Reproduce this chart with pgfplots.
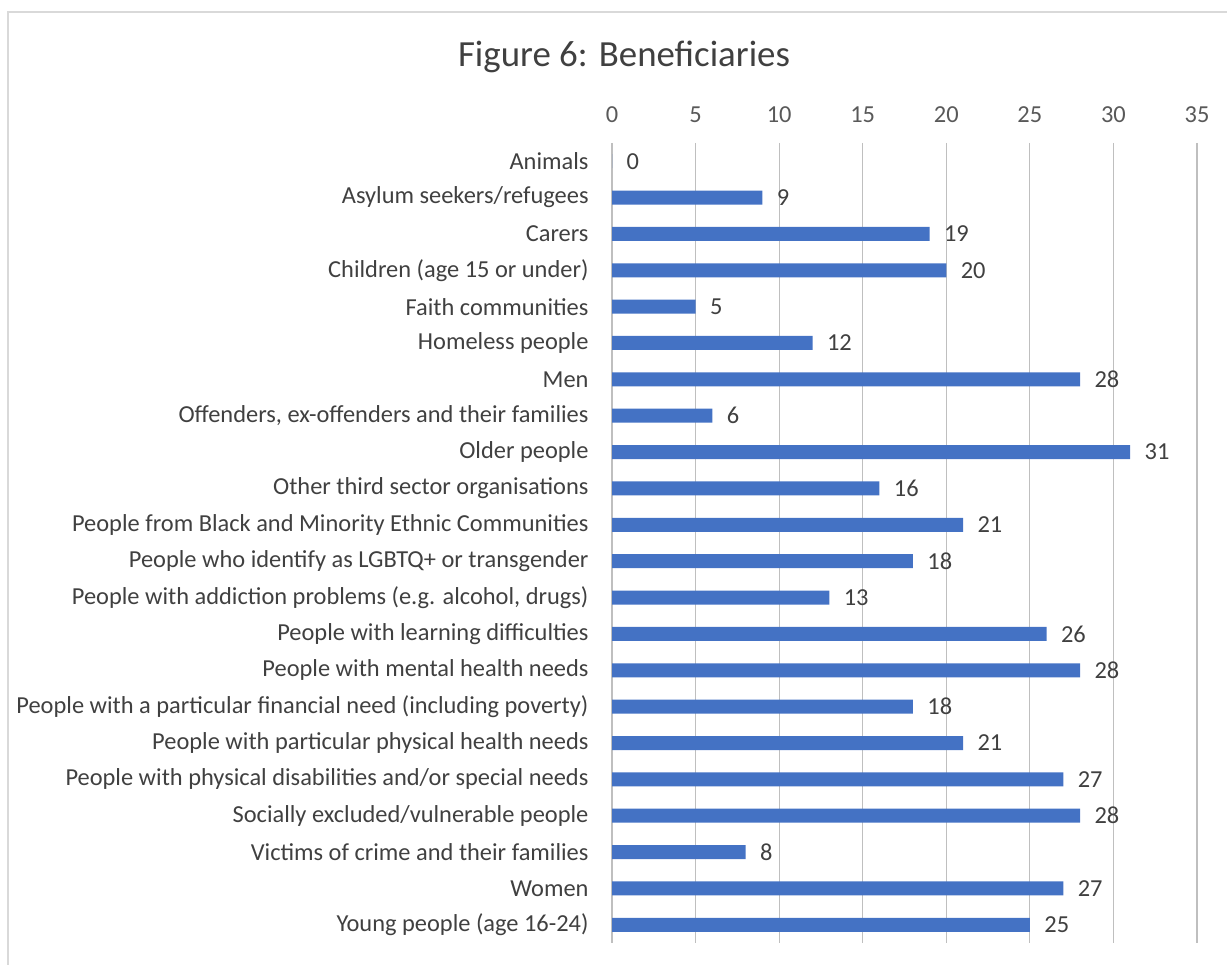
\documentclass[border=0pt]{standalone}
\usepackage{pgfplots}
\pgfplotsset{compat=1.18}
\usepackage{fontspec}
\setmainfont{Carlito}
\definecolor{barblue}{HTML}{4472C4}
\definecolor{txt}{HTML}{404040}
\definecolor{tick}{HTML}{595959}
\definecolor{grid}{HTML}{D9D9D9}
\begin{document}
\begin{tikzpicture}[x=1bp,y=1bp]
\useasboundingbox (0,0) rectangle (1227,965);
\draw[grid, line width=1.2bp] (8,-5) -- (8,953) -- (1232,953);
\node[font=\fontsize{37}{42}\selectfont, text=txt] at (624,908) {Figure 6: Beneficiaries};
\begin{axis}[
  at={(612bp,22bp)}, anchor=south west,
  scale only axis, width=585bp, height=800bp,
  xmin=0, xmax=35, ymin=-0.5, ymax=21.5,
  y dir=reverse,
  xbar, bar width=14bp,
  axis line style={draw=none},
  major tick length=0pt,
  xtick={0,5,...,35},
  xticklabel pos=upper,
  xmajorgrids=true, ymajorgrids=false, grid style={grid, line width=1.2bp},
  ytick={0,...,21},
  yticklabels={{Animals},{Asylum seekers/refugees},{Carers},{Children (age 15 or under)},{Faith communities},{Homeless people},{Men},{Offenders, ex-offenders and their families},{Older people},{Other third sector organisations},{People from Black and Minority Ethnic Communities},{People who identify as LGBTQ+ or transgender},{People with addiction problems (e.g. alcohol, drugs)},{People with learning difficulties},{People with mental health needs},{People with a particular financial need (including poverty)},{People with particular physical health needs},{People with physical disabilities and/or special needs},{Socially excluded/vulnerable people},{Victims of crime and their families},{Women},{Young people (age 16-24)}},
  ticklabel style={font=\fontsize{24.5}{28}\selectfont, text=tick},
  /pgf/number format/assume math mode=true,
  yticklabel style={xshift=-20bp, text=txt},
  xticklabel style={yshift=17bp},
  nodes near coords,
  nodes near coords style={anchor=west, xshift=11bp, font=\fontsize{24.5}{28}\selectfont, text=txt},
  clip=false,
]
\addplot[fill=barblue, draw=none] coordinates {
(0,0) (9,1) (19,2) (20,3) (5,4) (12,5) (28,6) (6,7) (31,8) (16,9) (21,10)
(18,11) (13,12) (26,13) (28,14) (18,15) (21,16) (27,17) (28,18) (8,19) (27,20) (25,21)
};
\end{axis}
\end{tikzpicture}
\end{document}
